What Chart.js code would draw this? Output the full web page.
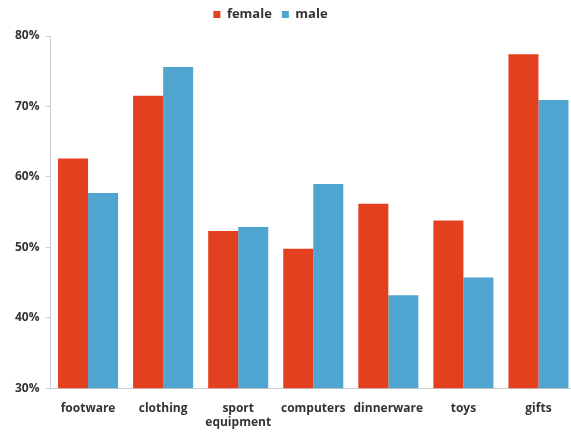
<!DOCTYPE html>
<html>
<head>
<meta charset="utf-8">
<script src="https://cdn.jsdelivr.net/npm/chart.js@4"></script>
<style>
  html, body { margin: 0; padding: 0; background: #fff; overflow: hidden; }
  #wrap { width: 571px; height: 432px; overflow: hidden; }
</style>
</head>
<body>
<div id="wrap"><canvas id="c" width="580" height="447"></canvas></div>
<script>
// Share of shoppers by gift category, split by gender (percent)
const categories = ["footware", "clothing", ["sport", "equipment"], "computers", "dinnerware", "toys", "gifts"];
const femaleValues = [62.6, 71.5, 52.3, 49.8, 56.2, 53.8, 77.4];
const maleValues = [57.7, 75.6, 52.9, 59.0, 43.2, 45.7, 70.9];
const yTicks = [30, 40, 50, 60, 70, 80];

const RED = "#E2401F";
const BLUE = "#50A5D0";
const TEXT = "#333333";
const AXIS = "#cfcfcf";
const FONT = "'Open Sans', 'DejaVu Sans', sans-serif";

// Nudge the legend up and a little to the left of the canvas centre
const legendShift = {
  id: "legendShift",
  afterLayout(chart) {
    const lg = chart.legend;
    if (lg) {
      lg.left -= 22; lg.right -= 22;
      lg.top -= 5; lg.bottom -= 5;
    }
  }
};

new Chart(document.getElementById("c"), {
  type: "bar",
  data: {
    labels: categories,
    datasets: [
      { label: "female", data: femaleValues, backgroundColor: RED, borderWidth: 0 },
      { label: "male", data: maleValues, backgroundColor: BLUE, borderWidth: 0 }
    ]
  },
  plugins: [legendShift],
  options: {
    responsive: false,
    animation: false,
    devicePixelRatio: 1,
    layout: { padding: { left: 9, right: 4, top: 3, bottom: 4 } },
    datasets: { bar: { categoryPercentage: 0.8, barPercentage: 1.0 } },
    plugins: {
      tooltip: { enabled: false },
      legend: {
        position: "top",
        align: "center",
        labels: {
          boxWidth: 7,
          boxHeight: 7,
          padding: 10,
          color: TEXT,
          font: { family: FONT, size: 13, weight: "bold" }
        }
      }
    },
    scales: {
      x: {
        grid: { display: false, drawTicks: false },
        border: { display: true, color: AXIS, width: 1 },
        ticks: {
          color: TEXT,
          padding: 13,
          maxRotation: 0,
          autoSkip: false,
          font: { family: FONT, size: 12, weight: "bold", lineHeight: 1.2 }
        }
      },
      y: {
        min: 30,
        max: 80,
        afterBuildTicks: (axis) => { axis.ticks = yTicks.map(v => ({ value: v })); },
        grid: { drawOnChartArea: false, drawTicks: true, tickLength: 5, color: AXIS },
        border: { display: true, color: AXIS, width: 1 },
        ticks: {
          color: TEXT,
          padding: 6,
          font: { family: FONT, size: 12, weight: "bold" },
          callback: (v) => v + "%"
        }
      }
    }
  }
});
</script>
</body>
</html>
